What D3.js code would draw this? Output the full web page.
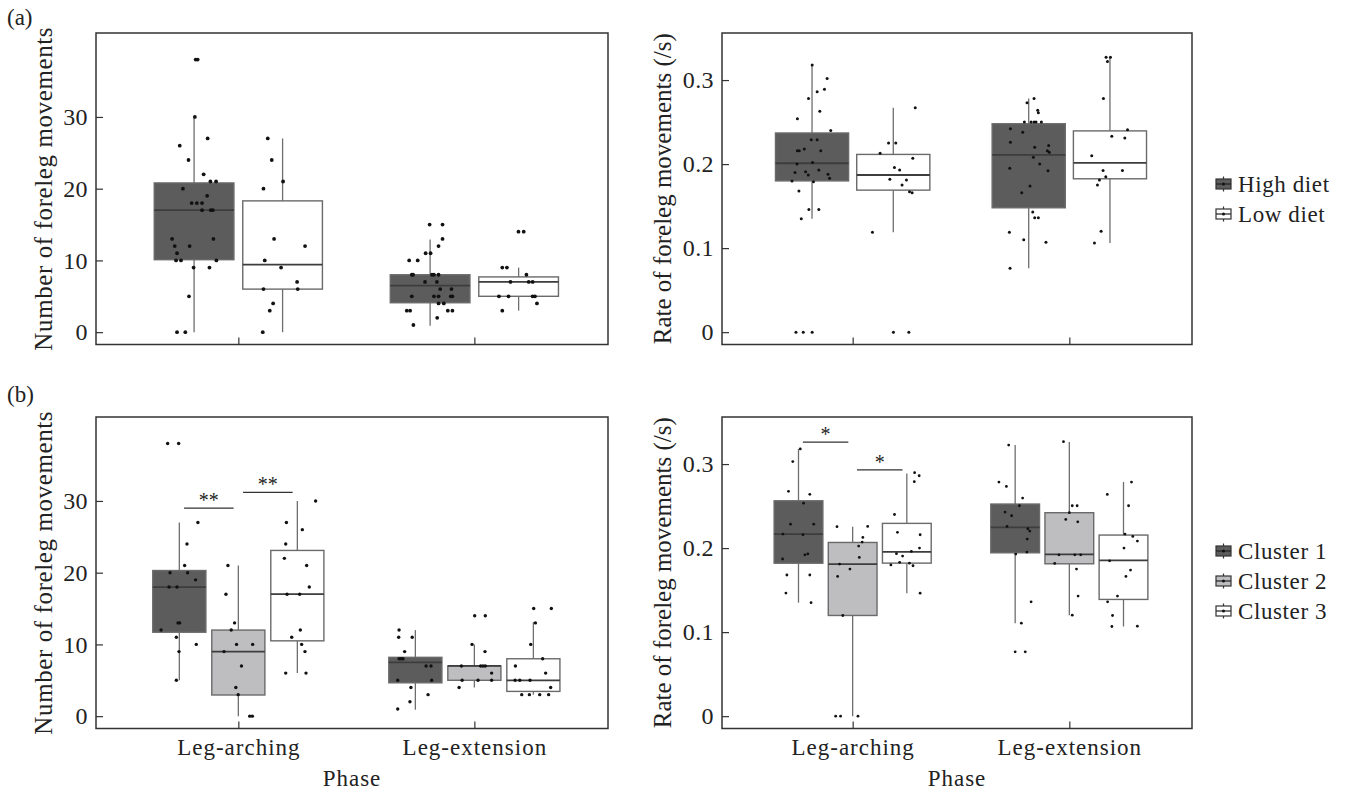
<!DOCTYPE html>
<html>
<head>
<meta charset="utf-8">
<script src="https://cdn.jsdelivr.net/npm/d3@7"></script>
<style>
  html, body { margin: 0; padding: 0; background: #fff; }
  svg { display: block; }
  text { font-family: "Liberation Serif", "Times New Roman", serif; fill: #222; }
</style>
</head>
<body>
<svg id="fig" width="1349" height="793"></svg>
<script>
// ---------- categories and ticks ----------
const phases = ["Leg-arching", "Leg-extension"];
const dietGroups = ["High diet", "Low diet"];
const clusterGroups = ["Cluster 1", "Cluster 2", "Cluster 3"];
const countTicks = [0, 10, 20, 30];
const rateTicks = [0, 0.1, 0.2, 0.3];

// ---------- (a) number of foreleg movements by diet ----------
// values, horizontal jitter (fraction of box width), box stats [min, q1, median, q3, max]
const numHighArch = [38,38,30,26,27,24,22,21,21,20,19,18,18,18,17,17,17,13,13,12,12,11,10,10,10,9,9,5,0,0];
const numHighArchJit = [0.02,0.045,0.01,-0.18,0.17,-0.07,0.12,0.205,0.276,-0.14,0.164,-0.03,0.035,0.1,0.1,0.21,0.235,-0.276,0.243,-0.243,-0.056,-0.214,-0.226,-0.164,0.28,-0.006,0.193,-0.064,-0.214,-0.11];
const numHighArchBox = [0, 10.1, 17, 20.8, 30];

const numLowArch = [27,24,21,20,13,12,10,9,7,6,6,4,3,0];
const numLowArchJit = [-0.186,-0.136,0.006,-0.24,-0.107,0.282,-0.224,-0.019,0.182,-0.24,0.19,-0.119,-0.161,-0.249];
const numLowArchBox = [0, 6, 9.4, 18.3, 27];

const numHighExt = [15,15,13,12,11,11,10,10,8,8,8,8,8,7,7,6,6,5,5,5,5,5,4,4,3,3,3,3,2,1];
const numHighExtJit = [-0.006,0.156,0.156,0.106,-0.056,0.006,-0.263,-0.156,-0.23,-0.214,0.023,0.048,0.106,-0.064,0.085,0.127,0.268,-0.23,0.048,0.106,0.259,0.28,0.106,0.172,-0.293,-0.251,0.222,0.28,0.089,-0.21];
const numHighExtBox = [0.9, 4.1, 6.5, 8, 12.9];

const numLowExt = [14,14,9,9,8,7,7,7,5,5,5,5,4,3];
const numLowExtJit = [-0.002,0.064,-0.205,-0.147,0.098,-0.102,0.127,0.176,-0.247,-0.127,0.176,0.205,0.23,-0.205];
const numLowExtBox = [3, 5, 7, 7.7, 9];

// ---------- (a) rate of foreleg movements by diet ----------
const rateHighArch = [0.318,0.302,0.289,0.286,0.278,0.263,0.254,0.240,0.229,0.229,0.216,0.216,0.218,0.216,0.202,0.200,0.193,0.191,0.190,0.187,0.188,0.183,0.180,0.179,0.168,0.146,0.146,0.135,0,0,0];
const rateHighArchJit = [0.002,0.206,0.17,0.07,-0.048,0.106,-0.2,0.256,-0.011,0.07,-0.2,-0.174,-0.106,0.12,0.007,-0.206,0.093,-0.088,-0.233,-0.052,0.219,0.24,-0.274,0.02,-0.179,-0.043,0.093,-0.147,-0.22,-0.12,0.002];
const rateHighArchBox = [0.135, 0.180, 0.201, 0.237, 0.318];

const rateLowArch = [0.267,0.225,0.225,0.213,0.207,0.196,0.193,0.182,0.181,0.175,0.167,0.166,0.119,0,0];
const rateLowArchJit = [0.3,-0.065,0.034,-0.18,0.267,0.016,0.087,-0.047,0.18,0.12,0.222,0.258,-0.285,0.002,0.213];
const rateLowArchBox = [0.119, 0.169, 0.187, 0.2115, 0.267];

const rateHighExt = [0.278,0.273,0.264,0.261,0.25,0.25,0.25,0.25,0.25,0.242,0.238,0.226,0.222,0.220,0.216,0.214,0.208,0.200,0.195,0.192,0.174,0.166,0.143,0.136,0.136,0.119,0.110,0.107,0.076];
const rateHighExtJit = [0.073,-0.023,0.123,0.132,-0.059,0.032,0.073,0.1,0.173,-0.25,-0.082,-0.25,0.273,0.082,0.255,0.282,0.064,0.15,-0.259,0.264,0.018,-0.095,0.055,0.082,0.132,-0.264,-0.068,0.236,-0.255];
const rateHighExtBox = [0.076, 0.148, 0.211, 0.248, 0.278];

const rateLowExt = [0.327,0.327,0.322,0.278,0.241,0.233,0.231,0.210,0.1925,0.1925,0.185,0.181,0.175,0.120,0.106];
const rateLowExtJit = [-0.053,0.007,-0.034,-0.089,0.24,0.025,0.203,-0.249,-0.094,0.171,-0.057,-0.144,-0.171,-0.121,-0.212];
const rateLowExtBox = [0.106, 0.1825, 0.2015, 0.2395, 0.327];

// ---------- (b) number of foreleg movements by cluster ----------
const numC1Arch = [38,38,27,24,21,20,20,19,18,18,13,13,12,11,10,9,5];
const numC1ArchJit = [-0.22,-0.013,0.35,0.144,0.1,-0.175,0.156,0.306,-0.194,-0.044,-0.025,0.006,-0.344,-0.056,0.319,-0.006,-0.056];
const numC1ArchBox = [5, 11.7, 18, 20.3, 27];

const numC2Arch = [21,17,13,12,10,10,9,7,4,3,0,0];
const numC2ArchJit = [-0.196,-0.233,-0.071,-0.134,-0.034,0.27,-0.27,0.059,-0.047,-0.003,0.214,0.264];
const numC2ArchBox = [0, 2.95, 9, 12, 21];

const numC3Arch = [30,27,26,24,22,21,18,17,17,12,11,10,9,6,6];
const numC3ArchJit = [0.344,-0.206,0.094,-0.219,-0.244,0.175,0.225,-0.194,0.044,0.056,-0.106,0.081,0.144,-0.219,0.163];
const numC3ArchBox = [6, 10.5, 17, 23.1, 30];

const numC1Ext = [12,11,11,9,8,8,8,7,7,5,5,4,3,2,1];
const numC1ExtJit = [-0.307,-0.314,-0.059,-0.202,-0.307,-0.27,-0.233,0.202,0.295,-0.332,0.307,-0.084,0.239,-0.102,-0.332];
const numC1ExtBox = [0.9, 4.65, 7.5, 8.2, 12];

const numC2Ext = [14,14,10,9,7,7,7,7,5,5,5,6,4];
const numC2ExtJit = [0.006,0.206,-0.044,0.2,-0.244,0.119,0.163,0.206,-0.231,0.069,0.325,0.325,-0.288];
const numC2ExtBox = [4, 5, 7, 7, 10];

const numC3Ext = [15,15,13,10,8,7,6,5,5,5,4,3,3,3,3];
const numC3ExtJit = [0.006,0.338,0.038,-0.05,0.175,-0.338,0.231,-0.344,-0.256,-0.063,0.325,-0.219,-0.075,0.119,0.288];
const numC3ExtBox = [3, 3.45, 5, 8, 13.1];

// ---------- (b) rate of foreleg movements by cluster ----------
const rateC1Arch = [0.318,0.303,0.2675,0.264,0.2535,0.2285,0.2285,0.2167,0.216,0.192,0.193,0.187,0.168,0.168,0.1465,0.135];
const rateC1ArchJit = [0.037,-0.117,-0.205,0.232,0.104,-0.164,0.312,-0.319,0.091,0.131,0.191,-0.326,-0.238,0.232,-0.258,0.258];
const rateC1ArchBox = [0.135, 0.182, 0.2167, 0.2563, 0.318];

const rateC2Arch = [0.2255,0.2258,0.2127,0.2071,0.2024,0.1889,0.181,0.175,0.1663,0.1198,0,0,0];
const rateC2ArchJit = [-0.321,0.308,0.209,0.195,0.123,0.136,-0.268,-0.056,-0.308,-0.202,-0.348,-0.248,0.109];
const rateC2ArchBox = [0, 0.1198, 0.181, 0.2067, 0.2255];

const rateC3Arch = [0.2897,0.2861,0.279,0.24,0.2187,0.2159,0.2,0.1933,0.196,0.1905,0.18,0.183,0.182,0.179,0.1464];
const rateC3ArchJit = [0.16,0.253,0.153,-0.253,-0.193,0.273,0.26,-0.213,0.093,-0.087,-0.327,-0.147,0.053,0.127,0.273];
const rateC3ArchBox = [0.1464, 0.1821, 0.1956, 0.2294, 0.2889];

const rateC1Ext = [0.3226,0.2786,0.2734,0.2595,0.2504,0.2429,0.2385,0.2258,0.223,0.2202,0.2107,0.1952,0.1929,0.1361,0.1107,0.0766,0.0766];
const rateC1ExtJit = [-0.133,-0.333,-0.18,0.153,0.087,-0.207,-0.073,-0.167,0.26,0.3,0.247,0.24,0.013,0.327,0.127,0,0.207];
const rateC1ExtBox = [0.1107, 0.1944, 0.2246, 0.2524, 0.3226];

const rateC2Ext = [0.3266,0.2504,0.2504,0.2421,0.2341,0.2313,0.192,0.192,0.192,0.1817,0.175,0.1429,0.1202];
const rateC2ExtJit = [-0.12,0.06,0.16,0,-0.073,0.173,-0.213,0.113,0.233,-0.3,0.147,0.18,0.06];
const rateC2ExtBox = [0.1202, 0.1813, 0.1925, 0.2421, 0.3262];

const rateC3Ext = [0.2786,0.2639,0.2504,0.2167,0.2139,0.2083,0.2,0.1849,0.1738,0.1663,0.1361,0.1429,0.1198,0.1067,0.1071];
const rateC3ExtJit = [0.164,-0.332,0.104,0.03,0.191,0.285,0.01,-0.285,0.144,0.05,-0.326,-0.124,-0.225,-0.238,0.285];
const rateC3ExtBox = [0.1067, 0.1389, 0.1853, 0.2155, 0.2786];

// significance brackets: [group A, group B, height, label]
const numClusterSig = [["Cluster 1", "Cluster 2", 29, "**"], ["Cluster 2", "Cluster 3", 31.2, "**"]];
const rateClusterSig = [["Cluster 1", "Cluster 2", 0.326, "*"], ["Cluster 2", "Cluster 3", 0.293, "*"]];

// ---------- styling ----------
const dietFills = ["#5c5c5c", "#ffffff"];
const clusterFills = ["#5c5c5c", "#bebec0", "#ffffff"];

const svg = d3.select("#fig");

function series(phase, group, values, jit, box) {
  return { phase, group, values, jit, box };
}

function drawPanel(o) {
  const g = svg.append("g");
  const y = d3.scaleLinear().domain(o.domain).range([o.y0 + o.h, o.y0]);
  const x = d3.scalePoint().domain(phases).range([o.x0 + o.w * 0.278, o.x0 + o.w * 0.739]);
  const step = x(phases[1]) - x(phases[0]);
  const dodge = d3.scaleBand().domain(o.groups).range([-0.375 * step, 0.375 * step])
    .paddingInner(0.1).paddingOuter(0.05);
  const bw = dodge.bandwidth();
  const fill = d3.scaleOrdinal().domain(o.groups).range(o.fills);
  const cx = (p, grp) => x(p) + dodge(grp) + bw / 2;

  // axes (inward ticks)
  const ya = g.append("g").attr("transform", `translate(${o.x0},0)`)
    .call(d3.axisLeft(y).tickValues(o.ticks).tickFormat(o.fmt).tickSize(-7).tickPadding(8));
  const xa = g.append("g").attr("transform", `translate(0,${o.y0 + o.h})`)
    .call(d3.axisBottom(x).tickSize(-7).tickPadding(10).tickFormat(o.xLabels ? (d => d) : () => ""));
  [ya, xa].forEach(a => {
    a.select(".domain").remove();
    a.attr("font-family", null).attr("font-size", null);
    a.selectAll("line").attr("stroke", "#333").attr("stroke-width", 1.2);
  });
  ya.selectAll("text").attr("font-size", 24).attr("letter-spacing", 0.4).style("fill", "#222");
  xa.selectAll("text").attr("font-size", 23).attr("letter-spacing", 1).style("fill", "#222");

  // boxes
  o.data.forEach(s => {
    const c = cx(s.phase, s.group);
    const [lo, q1, med, q3, hi] = s.box;
    const sg = g.append("g");
    sg.append("line").attr("x1", c).attr("x2", c).attr("y1", y(hi)).attr("y2", y(q3))
      .attr("stroke", "#6e6e6e").attr("stroke-width", 1.3);
    sg.append("line").attr("x1", c).attr("x2", c).attr("y1", y(q1)).attr("y2", y(lo))
      .attr("stroke", "#6e6e6e").attr("stroke-width", 1.3);
    sg.append("rect").attr("x", c - bw / 2).attr("width", bw)
      .attr("y", y(q3)).attr("height", y(q1) - y(q3))
      .attr("fill", fill(s.group)).attr("stroke", "#6a6a6a").attr("stroke-width", 1.4);
    sg.append("line").attr("x1", c - bw / 2).attr("x2", c + bw / 2).attr("y1", y(med)).attr("y2", y(med))
      .attr("stroke", "#3d3d3d").attr("stroke-width", 1.8);
  });

  // jittered points
  o.data.forEach(s => {
    const c = cx(s.phase, s.group);
    g.append("g").selectAll("circle").data(s.values).join("circle")
      .attr("cx", (d, i) => c + s.jit[i] * bw)
      .attr("cy", d => y(d))
      .attr("r", o.r)
      .attr("fill", "#111");
  });

  // significance brackets
  (o.sig || []).forEach(([a, b, v, lab]) => {
    const mid = (cx(o.sigPhase, a) + cx(o.sigPhase, b)) / 2;
    const half = 0.42 * (cx(o.sigPhase, b) - cx(o.sigPhase, a));
    g.append("line").attr("x1", mid - half).attr("x2", mid + half).attr("y1", y(v)).attr("y2", y(v))
      .attr("stroke", "#333").attr("stroke-width", 1.3);
    g.append("text").attr("x", mid).attr("y", y(v) - 1).attr("text-anchor", "middle")
      .attr("font-size", 20).text(lab);
  });

  // frame
  g.append("rect").attr("x", o.x0).attr("y", o.y0).attr("width", o.w).attr("height", o.h)
    .attr("fill", "none").attr("stroke", "#333").attr("stroke-width", 1.5);

  // y title
  g.append("text")
    .attr("transform", `translate(${o.yLabelX},${o.y0 + o.h / 2}) rotate(-90)`)
    .attr("text-anchor", "middle").attr("font-size", 25).attr("letter-spacing", o.yLabelSpacing)
    .text(o.yLabel);

  if (o.xLabels) {
    g.append("text").attr("x", o.x0 + o.w / 2).attr("y", o.y0 + o.h + 57)
      .attr("text-anchor", "middle").attr("font-size", 23).attr("letter-spacing", 1)
      .text("Phase");
  }
}

function drawLegend(groups, fills, x0, cy) {
  const n = groups.length, gap = 30;
  const top = cy - (n - 1) * gap / 2;
  groups.forEach((grp, i) => {
    const yc = top + i * gap;
    const lg = svg.append("g");
    lg.append("line").attr("x1", x0 + 7.5).attr("x2", x0 + 7.5).attr("y1", yc - 7.5).attr("y2", yc + 7.5)
      .attr("stroke", "#333").attr("stroke-width", 1.2);
    lg.append("rect").attr("x", x0).attr("y", yc - 5).attr("width", 15).attr("height", 10)
      .attr("fill", fills[i]).attr("stroke", "#333").attr("stroke-width", 1.2);
    lg.append("line").attr("x1", x0).attr("x2", x0 + 15).attr("y1", yc).attr("y2", yc)
      .attr("stroke", "#222").attr("stroke-width", 1.2);
    lg.append("circle").attr("cx", x0 + 7.5).attr("cy", yc).attr("r", 1.5).attr("fill", "#111");
    lg.append("text").attr("x", x0 + 22).attr("y", yc + 8).attr("font-size", 23)
      .attr("letter-spacing", 0.6).text(grp);
  });
}

const fmtNum = d3.format("d");
const fmtRate = d => d === 0 ? "0" : d3.format(".1f")(d);
const yCount = [-1.72, 41.7];
const yRate = [-0.0147, 0.356];

// (a) by diet
drawPanel({
  x0: 96, y0: 33, w: 512, h: 311.5, domain: yCount, ticks: countTicks, fmt: fmtNum,
  groups: dietGroups, fills: dietFills, r: 1.9, xLabels: false, yLabelX: 52, yLabelSpacing: 0.6,
  yLabel: "Number of foreleg movements",
  data: [
    series(phases[0], dietGroups[0], numHighArch, numHighArchJit, numHighArchBox),
    series(phases[0], dietGroups[1], numLowArch, numLowArchJit, numLowArchBox),
    series(phases[1], dietGroups[0], numHighExt, numHighExtJit, numHighExtBox),
    series(phases[1], dietGroups[1], numLowExt, numLowExtJit, numLowExtBox)
  ]
});
drawPanel({
  x0: 722, y0: 33, w: 470, h: 311.5, domain: yRate, ticks: rateTicks, fmt: fmtRate,
  groups: dietGroups, fills: dietFills, r: 1.5, xLabels: false, yLabelX: 671, yLabelSpacing: 0,
  yLabel: "Rate of foreleg movements (/s)",
  data: [
    series(phases[0], dietGroups[0], rateHighArch, rateHighArchJit, rateHighArchBox),
    series(phases[0], dietGroups[1], rateLowArch, rateLowArchJit, rateLowArchBox),
    series(phases[1], dietGroups[0], rateHighExt, rateHighExtJit, rateHighExtBox),
    series(phases[1], dietGroups[1], rateLowExt, rateLowExtJit, rateLowExtBox)
  ]
});

// (b) by cluster
drawPanel({
  x0: 96, y0: 417, w: 512, h: 311.5, domain: yCount, ticks: countTicks, fmt: fmtNum,
  groups: clusterGroups, fills: clusterFills, r: 1.7, xLabels: true, yLabelX: 52, yLabelSpacing: 0.6,
  yLabel: "Number of foreleg movements",
  sig: numClusterSig, sigPhase: phases[0],
  data: [
    series(phases[0], clusterGroups[0], numC1Arch, numC1ArchJit, numC1ArchBox),
    series(phases[0], clusterGroups[1], numC2Arch, numC2ArchJit, numC2ArchBox),
    series(phases[0], clusterGroups[2], numC3Arch, numC3ArchJit, numC3ArchBox),
    series(phases[1], clusterGroups[0], numC1Ext, numC1ExtJit, numC1ExtBox),
    series(phases[1], clusterGroups[1], numC2Ext, numC2ExtJit, numC2ExtBox),
    series(phases[1], clusterGroups[2], numC3Ext, numC3ExtJit, numC3ExtBox)
  ]
});
drawPanel({
  x0: 722, y0: 417, w: 470, h: 311.5, domain: yRate, ticks: rateTicks, fmt: fmtRate,
  groups: clusterGroups, fills: clusterFills, r: 1.4, xLabels: true, yLabelX: 671, yLabelSpacing: 0,
  yLabel: "Rate of foreleg movements (/s)",
  sig: rateClusterSig, sigPhase: phases[0],
  data: [
    series(phases[0], clusterGroups[0], rateC1Arch, rateC1ArchJit, rateC1ArchBox),
    series(phases[0], clusterGroups[1], rateC2Arch, rateC2ArchJit, rateC2ArchBox),
    series(phases[0], clusterGroups[2], rateC3Arch, rateC3ArchJit, rateC3ArchBox),
    series(phases[1], clusterGroups[0], rateC1Ext, rateC1ExtJit, rateC1ExtBox),
    series(phases[1], clusterGroups[1], rateC2Ext, rateC2ExtJit, rateC2ExtBox),
    series(phases[1], clusterGroups[2], rateC3Ext, rateC3ExtJit, rateC3ExtBox)
  ]
});

drawLegend(dietGroups, dietFills, 1216, 199);
drawLegend(clusterGroups, clusterFills, 1216, 581);

// panel tags
svg.append("text").attr("x", 7).attr("y", 25).attr("font-size", 23).text("(a)");
svg.append("text").attr("x", 7).attr("y", 402).attr("font-size", 23).text("(b)");
</script>
</body>
</html>
